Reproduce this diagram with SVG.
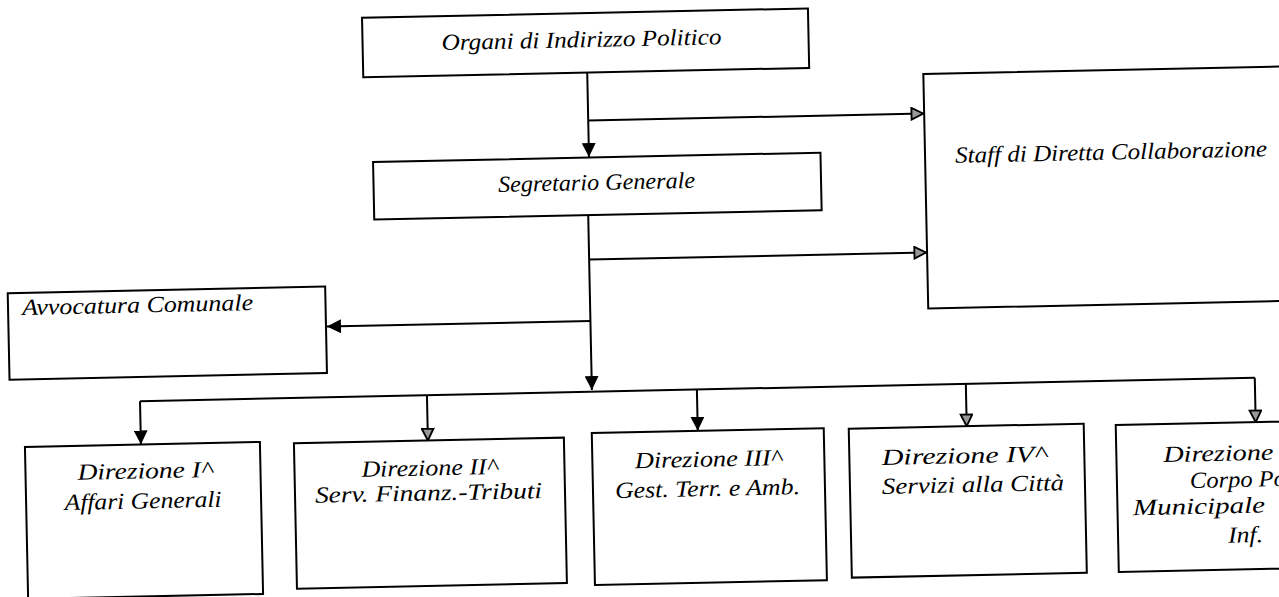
<svg xmlns="http://www.w3.org/2000/svg" width="1279" height="597" viewBox="0 0 1279 597">
<style>
.box{fill:#fff;stroke:#000;stroke-width:2}
.ln{fill:none;stroke:#000;stroke-width:2}
.t{font-family:"Liberation Serif",serif;font-style:italic;fill:#000;font-size:23px}
.m{text-anchor:middle}
</style>
<defs>
<marker id="af" viewBox="0 0 10 10" refX="10" refY="5" markerWidth="7" markerHeight="7" orient="auto" markerUnits="strokeWidth">
<path d="M0,0 L10,5 L0,10 Z" fill="#000"/>
</marker>
<marker id="ao" viewBox="0 0 12 12" refX="11" refY="6" markerWidth="7" markerHeight="7" orient="auto" markerUnits="strokeWidth">
<path d="M1,1 L11,6 L1,11 Z" fill="#999" stroke="#000" stroke-width="1.6"/>
</marker>
</defs>
<g transform="rotate(-1.2 640 300)">
<g id="connectors">
<path class="ln" d="M592,71.5 V156" marker-end="url(#af)"/>
<path class="ln" d="M592,119.5 H927" marker-end="url(#ao)"/>
<path class="ln" d="M590,214 V389" marker-end="url(#af)"/>
<path class="ln" d="M590,258.5 H927" marker-end="url(#ao)"/>
<path class="ln" d="M590,320 H326.5" marker-end="url(#af)"/>
<path class="ln" d="M138,390.7 H1253"/>
<path class="ln" d="M138,390.7 V434" marker-end="url(#af)"/>
<path class="ln" d="M425,390.7 V436" marker-end="url(#ao)"/>
<path class="ln" d="M695,390.7 V432" marker-end="url(#af)"/>
<path class="ln" d="M964,390.7 V433" marker-end="url(#ao)"/>
<path class="ln" d="M1253,390.7 V435" marker-end="url(#ao)"/>
</g>
<g id="organi">
<rect class="box" x="368" y="12" width="446" height="59.5"/>
<text class="t m" x="587" y="46" textLength="280" lengthAdjust="spacingAndGlyphs">Organi di Indirizzo Politico</text>
</g>
<g id="segretario">
<rect class="box" x="376" y="156.5" width="447.5" height="57.5"/>
<text class="t m" x="599" y="189" font-size="22" textLength="197" lengthAdjust="spacingAndGlyphs">Segretario Generale</text>
</g>
<g id="staff">
<rect class="box" x="928" y="80" width="380" height="234.5"/>
<text class="t" x="958" y="169.5" textLength="312" lengthAdjust="spacingAndGlyphs">Staff di Diretta Collaborazione</text>
</g>
<g id="avvocatura">
<rect class="box" x="8" y="280" width="317.5" height="86.5"/>
<text class="t" x="22" y="302" textLength="231" lengthAdjust="spacingAndGlyphs">Avvocatura Comunale</text>
</g>
<g id="dir1">
<rect class="box" x="22" y="434" width="235" height="152"/>
<text class="t m" x="141.5" y="468" font-size="24" textLength="135" lengthAdjust="spacingAndGlyphs">Direzione I^</text>
<text class="t m" x="139" y="498" font-size="24" textLength="157" lengthAdjust="spacingAndGlyphs">Affari Generali</text>
</g>
<g id="dir2">
<rect class="box" x="291" y="436" width="270" height="145.5"/>
<text class="t m" x="426" y="471" font-size="24" textLength="136" lengthAdjust="spacingAndGlyphs">Direzione II^</text>
<text class="t m" x="424.5" y="496" font-size="24" textLength="227" lengthAdjust="spacingAndGlyphs">Serv. Finanz.-Tributi</text>
</g>
<g id="dir3">
<rect class="box" x="589" y="432" width="232" height="152"/>
<text class="t m" x="705" y="468" font-size="24" textLength="147" lengthAdjust="spacingAndGlyphs">Direzione III^</text>
<text class="t m" x="703.5" y="497.5" font-size="24" textLength="185" lengthAdjust="spacingAndGlyphs">Gest. Terr. e Amb.</text>
</g>
<g id="dir4">
<rect class="box" x="846" y="433" width="235" height="149"/>
<text class="t m" x="961" y="470" font-size="24" textLength="165" lengthAdjust="spacingAndGlyphs">Direzione  IV^</text>
<text class="t m" x="969" y="499" font-size="24" textLength="182" lengthAdjust="spacingAndGlyphs">Servizi alla Città</text>
</g>
<g id="dir5">
<rect class="box" x="1113" y="435" width="200" height="147"/>
<text class="t" x="1160" y="473" font-size="24" textLength="110" lengthAdjust="spacingAndGlyphs">Direzione</text>
<text class="t" x="1186" y="499.5" font-size="24" textLength="96" lengthAdjust="spacingAndGlyphs">Corpo Po</text>
<text class="t" x="1128.5" y="525.5" font-size="24" textLength="132" lengthAdjust="spacingAndGlyphs">Municipale</text>
<text class="t" x="1223" y="555" font-size="24" textLength="35" lengthAdjust="spacingAndGlyphs">Inf.</text>
</g>
</g>
</svg>
